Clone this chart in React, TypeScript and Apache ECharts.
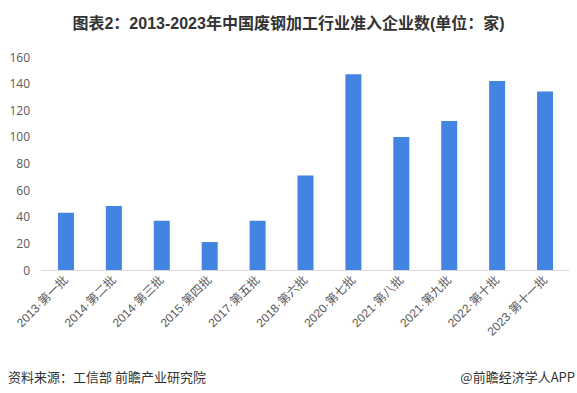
import React, { useEffect, useRef } from "react";
import * as echarts from "echarts";

const categories = [
  "2013·第一批", "2014·第二批", "2014·第三批", "2015·第四批", "2017·第五批",
  "2018·第六批", "2020·第七批", "2021·第八批", "2021·第九批", "2022·第十批", "2023·第十一批",
];
const values = [43, 48, 37, 21, 37, 71, 147, 100, 112, 142, 134];
const yTicks = { min: 0, max: 160, interval: 20 };

const titleText = "图表2：2013-2023年中国废钢加工行业准入企业数(单位：家)";
const sourceText = "资料来源：工信部 前瞻产业研究院";
const brandText = "@前瞻经济学人APP";

const latinCjk = "'Liberation Sans', 'Noto Sans CJK SC', sans-serif";

export default function App() {
  const ref = useRef<HTMLDivElement>(null);
  useEffect(() => {
    if (!ref.current) return;
    const chart = echarts.init(ref.current, null, { renderer: "svg" });
    chart.setOption({
      animation: false,
      backgroundColor: "#ffffff",
      textStyle: { fontFamily: latinCjk },
      title: {
        text: titleText,
        left: "center",
        top: 10,
        textStyle: { fontSize: 16, fontWeight: "bold", color: "#333333", fontFamily: latinCjk },
      },
      graphic: [
        {
          type: "text",
          left: 8,
          top: 370,
          style: { text: sourceText, fontSize: 13, fill: "#333333", fontFamily: "'Noto Sans CJK SC', sans-serif" },
        },
        {
          type: "text",
          right: 2,
          top: 370,
          style: { text: brandText, fontSize: 13, fill: "#333333", fontFamily: "'Noto Sans CJK SC', sans-serif" },
        },
      ],
      grid: { left: 42, right: 8, top: 57, bottom: 123, containLabel: false },
      xAxis: {
        type: "category",
        data: categories,
        axisLine: { lineStyle: { color: "#d9d9d9", width: 1 } },
        axisTick: { show: false },
        axisLabel: {
          interval: 0,
          rotate: 45,
          fontSize: 12,
          color: "#595959",
          margin: 8,
          fontFamily: latinCjk,
        },
      },
      yAxis: {
        type: "value",
        min: yTicks.min,
        max: yTicks.max,
        interval: yTicks.interval,
        splitLine: { show: false },
        axisLine: { show: false },
        axisTick: { show: false },
        axisLabel: { fontSize: 12, color: "#595959", margin: 12, fontFamily: "'Open Sans', sans-serif" },
      },
      series: [
        {
          type: "bar",
          data: values,
          barWidth: 16,
          itemStyle: { color: "#4384E0" },
        },
      ],
    });
    return () => chart.dispose();
  }, []);
  return <div ref={ref} style={{ width: 577, height: 393, position: "absolute", left: 0, top: 0 }} />;
}
